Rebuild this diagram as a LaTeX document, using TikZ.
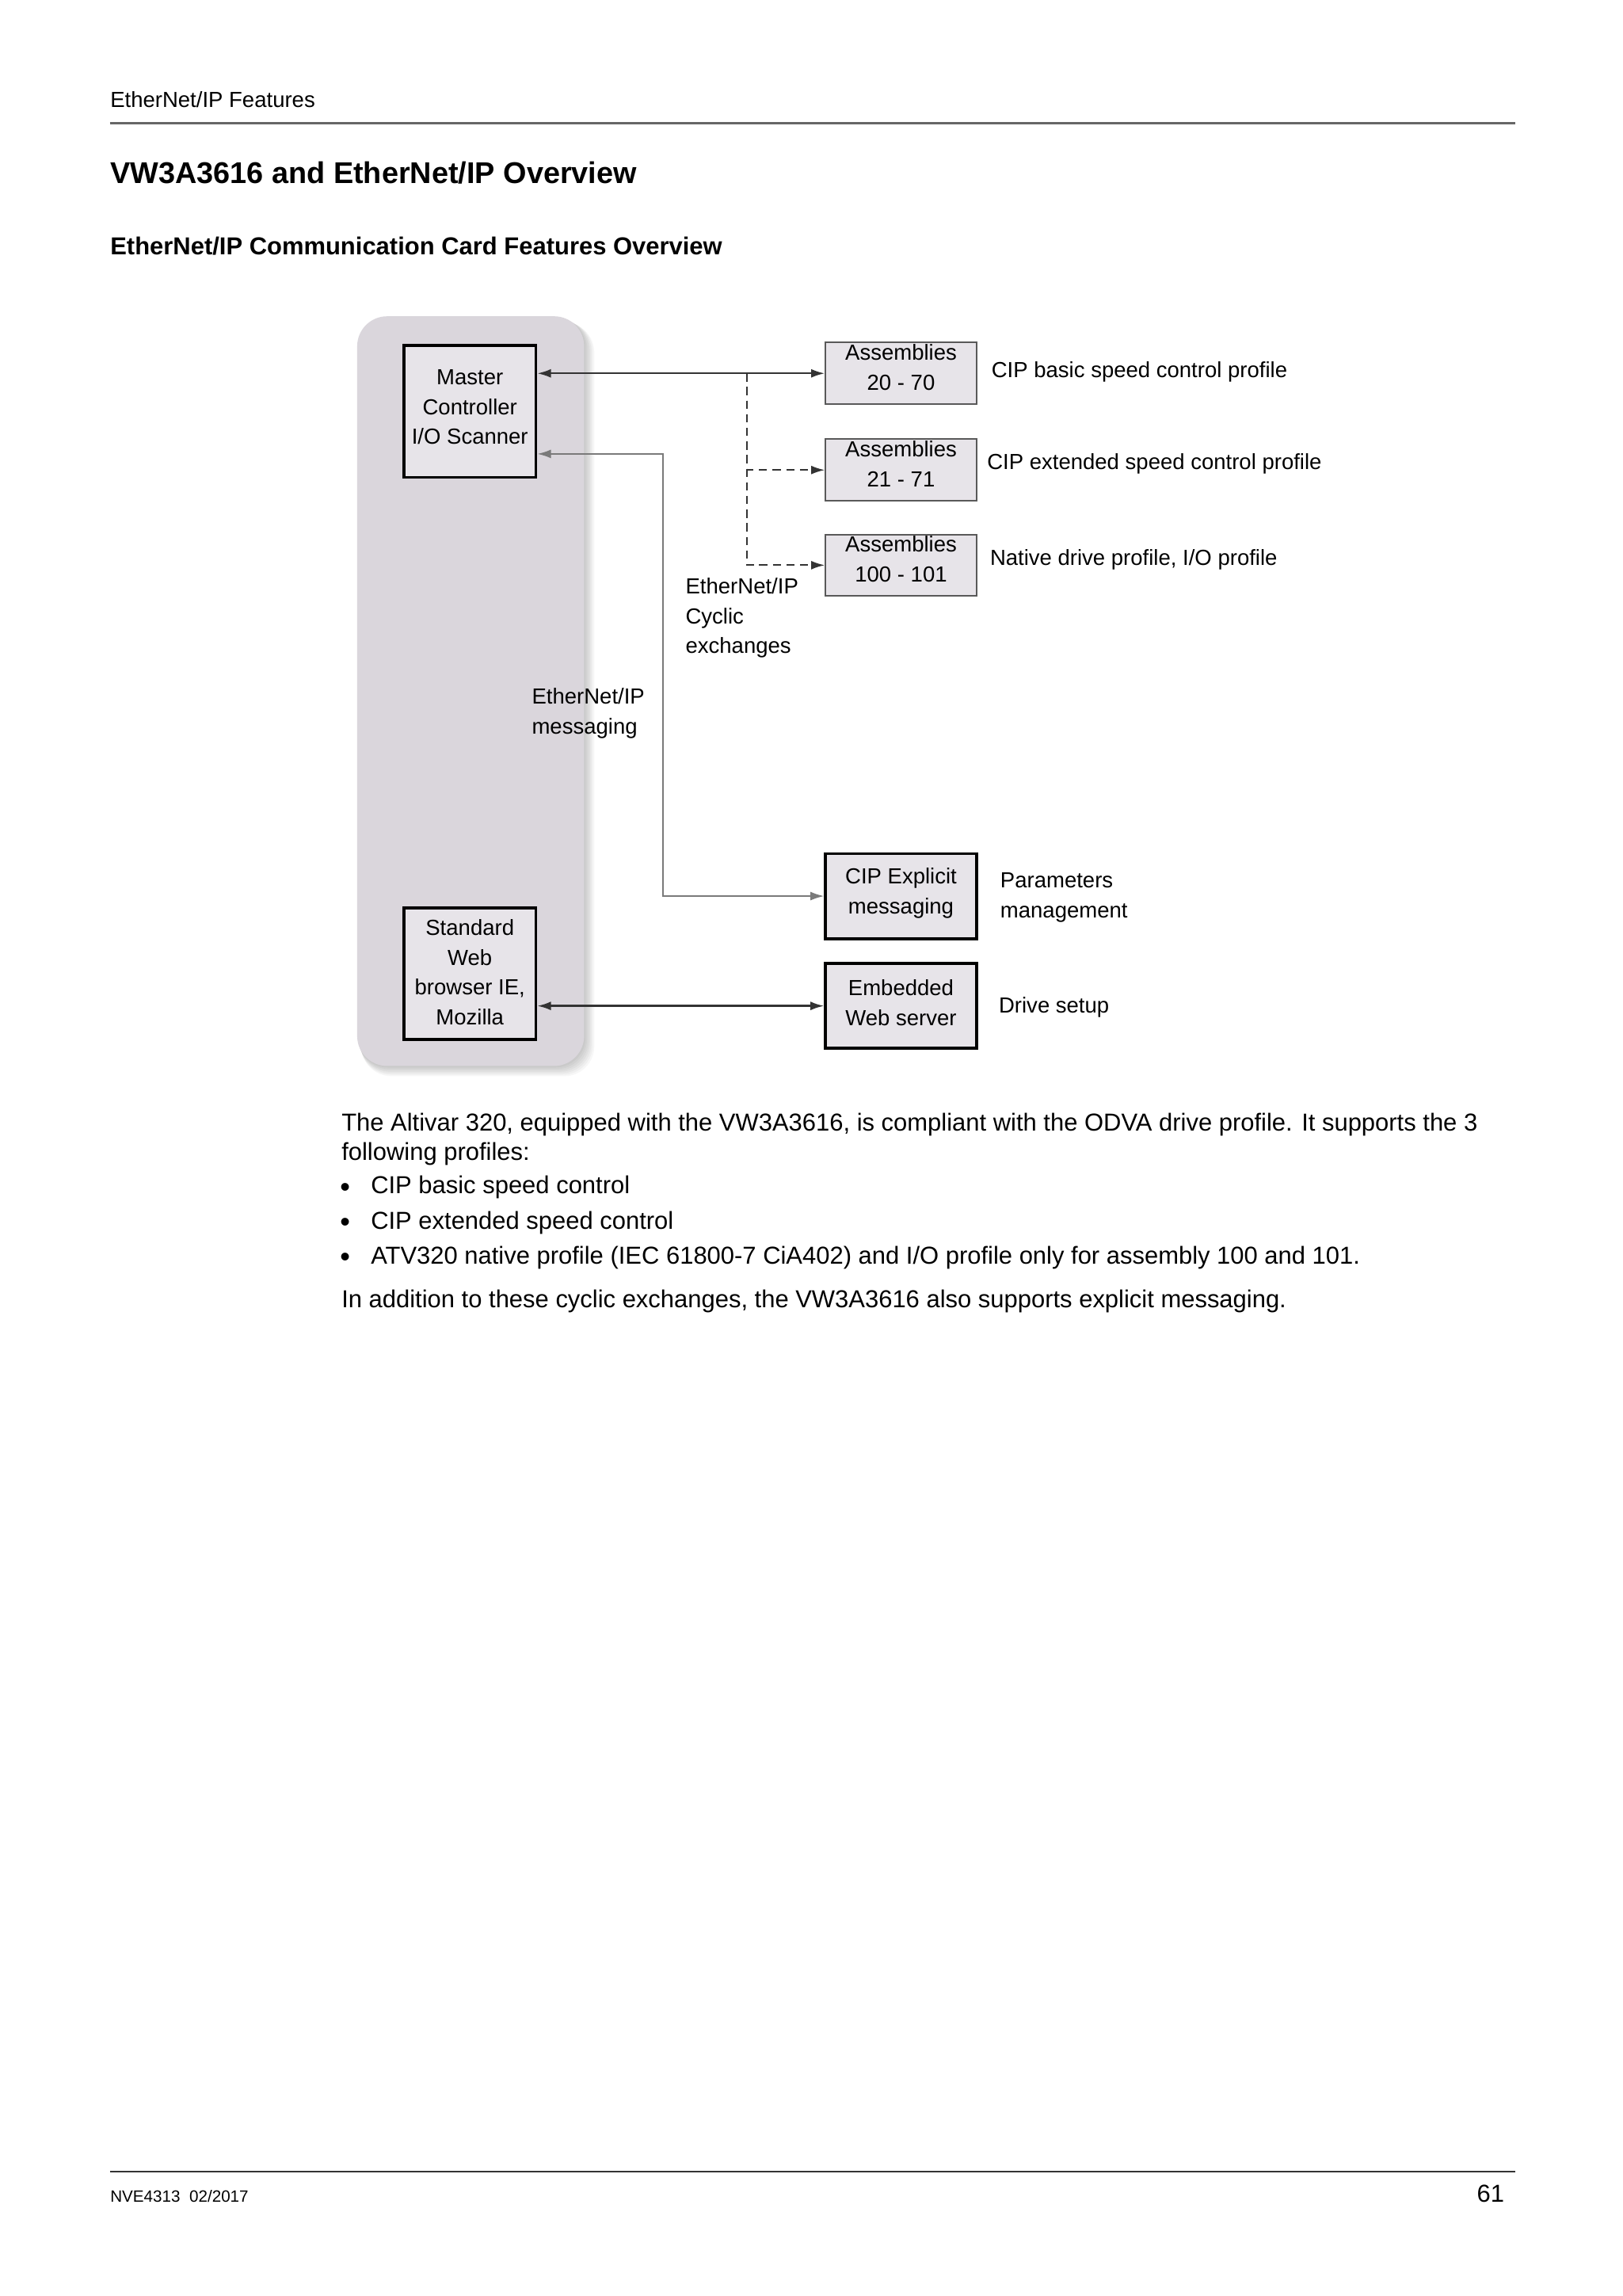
\documentclass[tikz,border=0pt]{standalone}
\usepackage{fontspec}
\setmainfont{Liberation Sans}
\usetikzlibrary{arrows.meta,calc}
\definecolor{panel}{HTML}{DAD6DC}
\definecolor{boxfill}{HTML}{E7E4E9}
\definecolor{msggray}{HTML}{7A7A7A}
\definecolor{linegray}{HTML}{333333}
\newlength\pu \setlength\pu{0.5372pt}
\newcommand\diafont{\fontsize{8}{11}\selectfont}
\newcommand\bodyfont{\fontsize{9}{11}\selectfont}
\begin{document}
\begin{tikzpicture}[x=0.5372pt,y=-0.5372pt,
  >={Latex[length=5pt,width=3.2pt]},
  bigbox/.style={draw=black, line width=1.1pt, fill=boxfill, minimum width=90\pu, minimum height=90\pu, inner sep=0pt},
  asmbox/.style={draw=black!65, line width=0.6pt, fill=boxfill, minimum width=103\pu, minimum height=42\pu, inner sep=0pt},
  boxtxt/.style={align=center, font=\diafont, inner sep=0pt},
  lbl/.style={anchor=west, inner sep=0pt, font=\diafont, align=left},
  body/.style={anchor=west, inner sep=0pt, font=\bodyfont},
  bul/.style={anchor=west, inner sep=0pt, font=\fontsize{10.5}{11}\selectfont},
  conn/.style={draw=linegray, line width=0.7pt},
  msg/.style={draw=msggray, line width=0.6pt, >={Latex[length=5pt,width=3.2pt,fill=msggray]}},
  dsh/.style={draw=linegray, line width=0.6pt, dash pattern=on 3pt off 2pt}
]
\useasboundingbox (0,0) rectangle (1108.2,1568.1);
\fill[white] (0,0) rectangle (1108.2,1568.1);

% header
\node[anchor=west, inner sep=0pt, font=\fontsize{8}{10}\selectfont] (hdr) at (75,68) {EtherNet/IP Features};
\coordinate (hr1) at (75,84);
\coordinate (hr2) at (1035,84);
\draw[black!60, line width=0.8pt] (hr1) -- (hr2);
\node[anchor=west, inner sep=0pt, font=\fontsize{11}{13}\selectfont\bfseries] (title) at (75,118) {VW3A3616 and EtherNet/IP Overview};
\node[anchor=west, inner sep=0pt, font=\fontsize{9}{11}\selectfont\bfseries] (sub) at (75,168) {EtherNet/IP Communication Card Features Overview};

% panel with soft shadow
\foreach \d in {1,...,7}{
  \fill[black, opacity=0.03, rounded corners=11pt] (244+\d*0.4,216+\d*0.6) rectangle (399+\d,728+\d);
}
\fill[panel, rounded corners=11pt] (244,216) rectangle (399,728);

% boxes
\node[bigbox] (master) at (321,281) {};
\node[boxtxt] (mastert) at ($(master.center)+(0,-3)$) {Master\\Controller\\I/O Scanner};
\node[bigbox] (std) at (321,665) {};
\node[boxtxt] (stdt) at ($(std.center)+(0,-1)$) {Standard\\Web\\browser IE,\\Mozilla};
\node[asmbox] (a20) at (615.5,255) {};
\node[boxtxt] (a20t) at ($(a20.center)+(0,-4)$) {Assemblies\\20 - 70};
\node[asmbox] (a21) at (615.5,321) {};
\node[boxtxt] (a21t) at ($(a21.center)+(0,-4)$) {Assemblies\\21 - 71};
\node[asmbox] (a100) at (615.5,386) {};
\node[boxtxt] (a100t) at ($(a100.center)+(0,-4)$) {Assemblies\\100 - 101};
\node[bigbox, minimum width=103\pu, minimum height=58\pu] (cip) at (615.5,612) {};
\node[boxtxt] (cipt) at ($(cip.center)+(0,-2)$) {CIP Explicit\\messaging};
\node[bigbox, minimum width=103\pu, minimum height=58\pu] (web) at (615.5,687) {};
\node[boxtxt] (webt) at ($(web.center)+(0,-2)$) {Embedded\\Web server};

% connectors
\draw[conn,<->] (master.east |- a20.west) -- (a20.west);
\coordinate (jn) at (510,255);
\draw[dsh,->] (jn) |- (a21.west);
\draw[dsh,->] (jn) |- (a100.west);
\coordinate (mk) at (453,310);
\draw[msg,<->] (master.east |- mk) -- (mk) |- (cip.west);
\draw[conn,<->] (std.east |- web.west) -- (web.west);

% labels
\node[lbl] (l1) at (677,254) {CIP basic speed control profile};
\node[lbl] (l2) at (674,317) {CIP extended speed control profile};
\node[lbl] (l3) at (676,382) {Native drive profile, I/O profile};
\node[lbl] (l4) at (683,613) {Parameters\\management};
\node[lbl] (l5) at (682,688) {Drive setup};
\node[lbl] (cyc) at (468,422) {EtherNet/IP\\Cyclic\\exchanges};
\node[lbl] (msgl) at (363,487) {EtherNet/IP\\messaging};

% body text
\node[body] (p1) at (233,768) {The Altivar 320, equipped with the VW3A3616, is compliant with the ODVA drive profile. It supports the 3};
\node[body] (p2) at (233,788) {following profiles:};
\node[bul] (b1) at (232,812.5) {•};
\node[body] (t1) at (253,811) {CIP basic speed control};
\node[bul] (b2) at (232,836.5) {•};
\node[body] (t2) at (253,835) {CIP extended speed control};
\node[bul] (b3) at (232,860.5) {•};
\node[body] (t3) at (253,859) {ATV320 native profile (IEC 61800-7 CiA402) and I/O profile only for assembly 100 and 101.};
\node[body] (p3) at (233,889) {In addition to these cyclic exchanges, the VW3A3616 also supports explicit messaging.};

% footer
\coordinate (fr1) at (75,1483);
\coordinate (fr2) at (1035,1483);
\draw[black!80, line width=0.6pt] (fr1) -- (fr2);
\node[anchor=west, inner sep=0pt, font=\fontsize{6}{8}\selectfont] (foot) at (75,1500) {NVE4313~~02/2017};
\node[anchor=east, inner sep=0pt, font=\fontsize{9}{10}\selectfont] (page) at (1028,1498) {61};
\end{tikzpicture}
\end{document}
